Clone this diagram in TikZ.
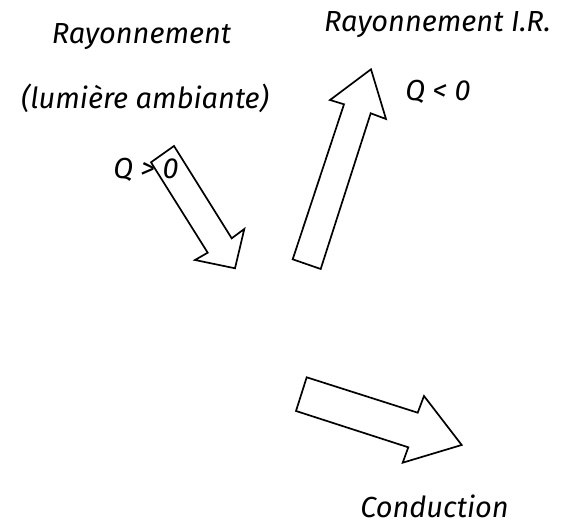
\documentclass[tikz,border=0pt]{standalone}
\usepackage{fontspec}
\setmainfont{Fira Sans}
\begin{document}
\begin{tikzpicture}[x=1pt,y=-1pt,
  lbl/.style={anchor=base,inner sep=0pt,font=\itshape\fontsize{29}{33}\selectfont},
  flux/.style={draw=black,line width=1.7pt,line join=miter,fill=white}]
\useasboundingbox (0,0) rectangle (571,526);
% incoming radiation (ambient light)
\draw[flux] (151,162.3) -- (174,146) -- (231.7,238.3) -- (244.3,229) -- (235,268.3)
  -- (195,260) -- (207.7,252.7) -- cycle;
% infrared emission
\draw[flux] (292.7,259.3) -- (320.7,269) -- (370.7,113.3) -- (386,119) -- (371,69.3)
  -- (330,100) -- (344,104.3) -- cycle;
% conduction
\draw[flux] (306.7,377.3) -- (296,411) -- (408.3,447.3) -- (402.7,462.7) -- (461.7,445)
  -- (424,396) -- (417.7,412.7) -- cycle;
% labels
\node[lbl] (ray) at (141.5,44) {Rayonnement};
\node[lbl] (amb) at (145,109) {(lumière ambiante)};
\node[lbl] (rir) at (437.5,32) {Rayonnement I.R.};
\node[lbl] (qneg) at (438,101) {Q < 0};
\node[lbl] (qpos) at (146,179) {Q > 0};
\node[lbl] (cond) at (434.5,518) {Conduction};
\end{tikzpicture}
\end{document}
